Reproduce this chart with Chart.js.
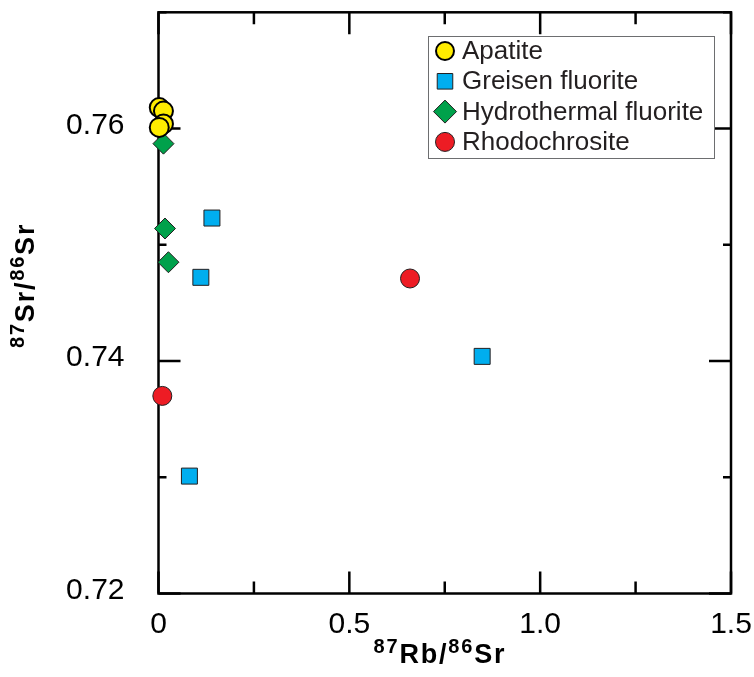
<!DOCTYPE html>
<html>
<head>
<meta charset="utf-8">
<script src="https://cdn.jsdelivr.net/npm/chart.js@4.4.0/dist/chart.umd.min.js"></script>
<style>
  html, body { margin: 0; padding: 0; background: #fff; }
  #wrap { width: 754px; height: 677px; }
</style>
</head>
<body>
<div id="wrap"><canvas id="srChart" width="754" height="677"></canvas></div>
<script>
// 87Rb/86Sr vs 87Sr/86Sr by mineral
const apatiteRb = [0.002, 0.013, 0.013, 0.002];
const apatiteSr = [0.7618, 0.7615, 0.7604, 0.7601];

const greisenRb = [0.140, 0.111, 0.848, 0.081];
const greisenSr = [0.7523, 0.7472, 0.7404, 0.7301];

const hydroRb = [0.013, 0.017, 0.026];
const hydroSr = [0.7587, 0.7514, 0.7485];

const rhodoRb = [0.010, 0.659];
const rhodoSr = [0.7370, 0.7471];

const xMajorTicks = [0, 0.5, 1.0, 1.5];
const xMinorTicks = [0.25, 0.75, 1.25];
const yMajorTicks = [0.72, 0.74, 0.76];
const yMinorTicks = [0.73, 0.75, 0.77];

const FONT = '"Liberation Sans", Arial, Helvetica, sans-serif';
const INK = '#231F20';

function toPoints(xs, ys) {
    return xs.map((x, i) => ({ x: x, y: ys[i] }));
}

// keep the plot box fixed: no extra room for overhanging labels
function fixBox(s, size) {
    if (s.isHorizontal()) s.height = size; else s.width = size;
    s.paddingTop = 0;
    s.paddingBottom = 0;
    s.paddingLeft = 0;
    s.paddingRight = 0;
}

// axes box with inward ticks on all four sides
const framePlugin = {
    id: 'frame',
    beforeDatasetsDraw(chart) {
        const { ctx, chartArea: a, scales } = chart;
        const xs = scales.x, ys = scales.y;
        ctx.save();
        ctx.strokeStyle = '#000';
        ctx.lineWidth = 2.5;
        ctx.lineCap = 'butt';
        ctx.beginPath();
        const tickX = (v, len) => {
            const px = xs.getPixelForValue(v);
            ctx.moveTo(px, a.bottom); ctx.lineTo(px, a.bottom - len);
            ctx.moveTo(px, a.top); ctx.lineTo(px, a.top + len);
        };
        const tickY = (v, len) => {
            const py = ys.getPixelForValue(v);
            ctx.moveTo(a.left, py); ctx.lineTo(a.left + len, py);
            ctx.moveTo(a.right, py); ctx.lineTo(a.right - len, py);
        };
        xMajorTicks.forEach(v => tickX(v, 22));
        xMinorTicks.forEach(v => tickX(v, 12));
        yMajorTicks.forEach(v => tickY(v, 22));
        yMinorTicks.forEach(v => tickY(v, 8));
        ctx.stroke();
        ctx.strokeRect(a.left, a.top, a.right - a.left, a.bottom - a.top);
        ctx.restore();
    }
};

// axis titles with superscript mass numbers, drawn letter by letter
const TITLE_TRACK = 1.8;

function partFont(p) {
    return p.sup ? 'bold 20px ' + FONT : 'bold 27px ' + FONT;
}

function isotopeWidth(ctx, parts) {
    let w = 0;
    parts.forEach(p => {
        ctx.font = partFont(p);
        for (const ch of p.t) w += ctx.measureText(ch).width + TITLE_TRACK;
    });
    return w - TITLE_TRACK;
}

function drawIsotope(ctx, parts, x, y) {
    let cx = x;
    parts.forEach(p => {
        ctx.font = partFont(p);
        for (const ch of p.t) {
            ctx.fillText(ch, cx, p.sup ? y - 10 : y);
            cx += ctx.measureText(ch).width + TITLE_TRACK;
        }
    });
}

const titlePlugin = {
    id: 'isoTitles',
    afterDraw(chart) {
        const { ctx } = chart;
        ctx.save();
        ctx.fillStyle = '#000';
        ctx.textBaseline = 'alphabetic';
        ctx.textAlign = 'left';

        const xParts = [{ t: '87', sup: true }, { t: 'Rb' }, { t: '/' }, { t: '86', sup: true }, { t: 'Sr' }];
        const xw = isotopeWidth(ctx, xParts);
        drawIsotope(ctx, xParts, 439 - xw / 2, 663);

        const yParts = [{ t: '87', sup: true }, { t: 'Sr' }, { t: '/' }, { t: '86', sup: true }, { t: 'Sr' }];
        const yw = isotopeWidth(ctx, yParts);
        ctx.translate(34, 348);
        ctx.rotate(-Math.PI / 2);
        drawIsotope(ctx, yParts, 0, 0);
        ctx.restore();
    }
};

// boxed legend inside the plot
const boxLegendPlugin = {
    id: 'boxLegend',
    afterDraw(chart) {
        const { ctx } = chart;
        const left = 428, top = 36, right = 714, bottom = 158;
        ctx.save();
        ctx.fillStyle = '#fff';
        ctx.fillRect(left, top, right - left, bottom - top);
        ctx.strokeStyle = '#6d6e70';
        ctx.lineWidth = 1;
        ctx.strokeRect(left + 0.5, top + 0.5, right - left, bottom - top);

        const legendRadius = [9, 11, 11.5, 9.5];
        chart.data.datasets.forEach((ds, i) => {
            const cy = 51 + i * 30.3;
            ctx.fillStyle = ds.backgroundColor;
            ctx.strokeStyle = ds.borderColor;
            ctx.lineWidth = ds.borderWidth;
            Chart.helpers.drawPoint(ctx, {
                pointStyle: ds.pointStyle,
                radius: legendRadius[i],
                rotation: 0,
                borderWidth: ds.borderWidth
            }, 445, cy);
            ctx.fillStyle = INK;
            ctx.font = '26px ' + FONT;
            ctx.textBaseline = 'middle';
            ctx.textAlign = 'left';
            ctx.fillText(ds.label, 462, cy + 1);
        });
        ctx.restore();
    }
};

const ctx = document.getElementById('srChart').getContext('2d');
new Chart(ctx, {
    type: 'scatter',
    data: {
        datasets: [
            {
                label: 'Apatite',
                data: toPoints(apatiteRb, apatiteSr),
                pointStyle: 'circle',
                pointRadius: 9.5,
                backgroundColor: '#FFEC00',
                borderColor: '#000',
                borderWidth: 2,
                clip: false
            },
            {
                label: 'Greisen fluorite',
                data: toPoints(greisenRb, greisenSr),
                pointStyle: 'rect',
                pointRadius: 11.3,
                backgroundColor: '#00AEEF',
                borderColor: INK,
                borderWidth: 1,
                clip: false
            },
            {
                label: 'Hydrothermal fluorite',
                data: toPoints(hydroRb, hydroSr),
                pointStyle: 'rectRot',
                pointRadius: 10.5,
                backgroundColor: '#00A14B',
                borderColor: INK,
                borderWidth: 1,
                clip: false
            },
            {
                label: 'Rhodochrosite',
                data: toPoints(rhodoRb, rhodoSr),
                pointStyle: 'circle',
                pointRadius: 9.5,
                backgroundColor: '#ED1C24',
                borderColor: INK,
                borderWidth: 1,
                clip: false
            }
        ]
    },
    options: {
        responsive: false,
        animation: false,
        layout: { padding: { left: 0, top: 10, right: 23, bottom: 0 } },
        plugins: {
            legend: { display: false },
            tooltip: { enabled: false }
        },
        scales: {
            x: {
                type: 'linear',
                min: 0,
                max: 1.5,
                grid: { display: false, drawTicks: false },
                border: { display: false },
                afterFit: s => fixBox(s, 83.5),
                afterBuildTicks: s => { s.ticks = xMajorTicks.map(v => ({ value: v })); },
                ticks: {
                    padding: 13,
                    color: '#000',
                    font: { family: FONT, size: 30 },
                    maxRotation: 0,
                    callback: v => (v === 0 ? '0' : v.toFixed(1))
                }
            },
            y: {
                type: 'linear',
                min: 0.72,
                max: 0.77,
                grid: { display: false, drawTicks: false },
                border: { display: false },
                afterFit: s => fixBox(s, 158.5),
                afterBuildTicks: s => { s.ticks = yMajorTicks.map(v => ({ value: v })); },
                ticks: {
                    padding: 34,
                    labelOffset: -3,
                    color: '#000',
                    font: { family: FONT, size: 30 },
                    callback: v => v.toFixed(2)
                }
            }
        }
    },
    plugins: [framePlugin, titlePlugin, boxLegendPlugin]
});
</script>
</body>
</html>
